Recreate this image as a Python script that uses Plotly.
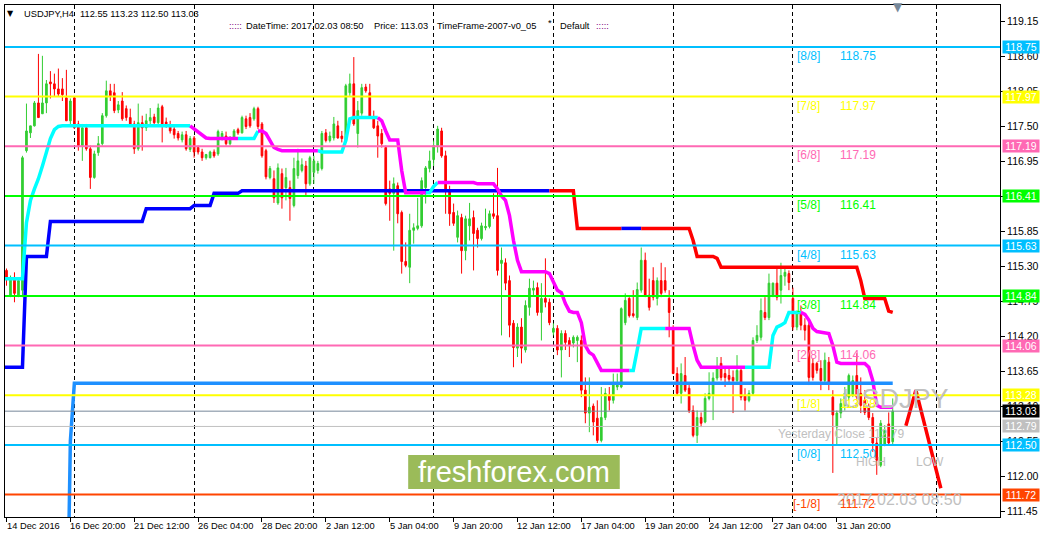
import plotly.graph_objects as go

# ---------------- data : USDJPY H4 bars, index 0 = 14 Dec 2016 00:00 ----------------
bars = list(range(224))

opens = [
    115.27, 115.24, 114.85, 115.13, 114.85, 114.93, 117.12, 117.40, 117.51, 117.87,
    117.70, 117.87, 118.20, 118.17, 118.09, 118.09, 117.95, 117.59, 117.95, 117.54,
    117.20, 117.48, 117.15, 116.70, 117.09, 117.23, 117.67, 118.06, 118.03, 117.76,
    117.90, 117.78, 117.64, 117.54, 117.15, 117.56, 117.48, 117.59, 117.65, 117.56,
    117.81, 117.57, 117.51, 117.46, 117.39, 117.29, 117.37, 117.14, 117.32, 117.17,
    117.10, 117.01, 117.01, 117.10, 117.07, 117.32, 117.35, 117.23, 117.32, 117.45,
    117.40, 117.62, 117.64, 117.62, 117.78, 117.54, 117.12, 116.70, 116.68, 116.30,
    116.76, 116.54, 116.54, 116.26, 116.73, 116.81, 116.88, 116.60, 116.78, 116.81,
    116.84, 117.40, 117.28, 117.32, 117.51, 117.35, 117.28, 118.03, 118.17, 117.39,
    117.71, 118.12, 118.03, 117.64, 117.51, 117.39, 117.17, 116.52, 116.45, 116.57,
    116.15, 115.38, 115.29, 115.87, 115.90, 115.94, 116.54, 116.84, 116.98, 117.20,
    117.43, 117.04, 116.49, 116.15, 115.76, 116.07, 115.55, 115.94, 116.07, 115.87,
    115.74, 115.91, 115.93, 116.13, 116.10, 115.35, 115.36, 115.08, 114.41, 114.02,
    114.35, 113.99, 114.66, 114.93, 114.97, 114.58, 114.80, 114.74, 114.27, 114.33,
    113.99, 114.25, 114.14, 114.10, 114.14, 114.14, 113.36, 113.00, 113.11, 112.92,
    112.57, 112.93, 113.28, 113.20, 113.41, 113.41, 114.42, 114.80, 114.56, 114.50,
    114.93, 115.40, 114.85, 115.08, 114.80, 115.08, 115.08, 114.80, 114.33, 113.62,
    113.31, 113.59, 113.39, 113.04, 112.65, 112.93, 112.86, 113.23, 113.28, 113.55,
    113.78, 113.62, 113.59, 113.56, 113.51, 113.67, 113.28, 113.20, 113.31, 114.14,
    114.19, 114.58, 114.50, 114.85, 115.04, 114.93, 115.15, 115.19, 114.80, 114.35,
    114.57, 114.38, 114.38, 113.78, 113.78, 113.70, 113.51, 113.80, 113.25, 112.78,
    113.00, 113.12, 113.25, 113.28, 113.59, 113.31, 113.20, 113.09, 112.93, 112.53,
    112.18, 112.51, 112.83, 112.55]

highs = [
    115.30, 115.27, 115.16, 115.21, 115.13, 117.04, 117.86, 117.51, 117.90, 118.64,
    118.61, 118.23, 118.37, 118.33, 118.41, 118.26, 118.39, 117.94, 117.97, 117.59,
    117.54, 117.54, 117.20, 117.12, 117.35, 117.71, 118.22, 118.17, 118.17, 117.90,
    118.04, 117.83, 117.78, 117.59, 117.86, 117.67, 117.70, 117.79, 117.70, 117.86,
    117.84, 117.64, 117.59, 117.50, 117.43, 117.42, 117.43, 117.35, 117.35, 117.20,
    117.15, 117.07, 117.12, 117.14, 117.45, 117.43, 117.42, 117.35, 117.46, 117.48,
    117.67, 117.67, 117.71, 117.81, 117.81, 117.57, 117.15, 116.88, 116.81, 116.92,
    116.84, 116.85, 116.65, 117.01, 117.15, 117.00, 116.96, 117.04, 117.04, 116.96,
    117.43, 117.46, 117.42, 117.65, 117.59, 117.43, 118.17, 118.33, 118.59, 117.90,
    118.17, 118.17, 118.17, 117.75, 117.59, 117.46, 117.20, 116.65, 116.70, 116.62,
    116.18, 115.68, 116.13, 115.98, 116.38, 116.70, 116.88, 117.12, 117.28, 117.51,
    117.48, 117.12, 116.57, 116.29, 116.18, 116.13, 116.10, 116.30, 116.18, 115.91,
    115.99, 116.21, 116.18, 116.45, 116.85, 115.60, 115.43, 115.16, 114.46, 114.41,
    114.49, 114.77, 115.11, 115.08, 115.05, 115.04, 115.43, 114.80, 114.41, 114.38,
    114.30, 114.30, 114.19, 114.22, 114.22, 114.22, 113.56, 113.56, 113.15, 113.20,
    113.41, 113.39, 113.41, 113.62, 113.62, 114.66, 114.88, 114.82, 114.93, 115.05,
    115.60, 115.52, 115.11, 115.29, 115.13, 115.36, 115.29, 114.93, 114.38, 113.72,
    113.78, 113.88, 113.44, 113.12, 113.04, 113.01, 113.31, 113.64, 113.64, 113.88,
    113.88, 113.72, 113.72, 113.67, 113.91, 113.72, 113.39, 113.36, 114.19, 114.38,
    114.80, 114.82, 115.19, 115.05, 115.27, 115.36, 115.27, 115.24, 114.97, 114.61,
    114.69, 114.49, 114.46, 113.86, 113.80, 113.83, 113.95, 113.88, 113.36, 113.04,
    113.23, 113.41, 113.62, 113.59, 113.94, 113.56, 113.36, 113.15, 113.00, 112.62,
    112.89, 112.81, 113.01, 113.23]

lows = [
    115.15, 115.00, 114.82, 114.74, 114.82, 114.82, 117.09, 117.32, 117.50, 117.64,
    117.70, 117.71, 117.94, 117.98, 117.97, 117.90, 117.59, 117.54, 117.46, 117.12,
    116.96, 117.12, 116.52, 116.68, 117.04, 117.20, 117.64, 117.90, 117.71, 117.71,
    117.59, 117.59, 117.51, 117.07, 117.12, 117.12, 117.43, 117.51, 117.51, 117.53,
    117.25, 117.48, 117.39, 117.31, 117.28, 117.25, 117.12, 117.10, 117.01, 117.06,
    116.96, 116.98, 117.00, 117.01, 117.04, 117.28, 117.20, 117.20, 117.31, 117.37,
    117.39, 117.46, 117.48, 117.59, 117.46, 117.01, 116.67, 116.67, 116.30, 116.27,
    116.21, 116.34, 116.02, 116.23, 116.68, 116.78, 116.41, 116.57, 116.60, 116.76,
    116.81, 117.25, 117.25, 117.28, 117.31, 117.25, 117.26, 117.98, 117.51, 117.17,
    117.67, 118.03, 117.62, 117.46, 117.01, 117.17, 116.26, 116.02, 115.55, 115.98,
    115.19, 115.29, 115.04, 115.66, 115.87, 115.91, 116.29, 116.78, 116.88, 117.09,
    117.01, 116.13, 115.94, 115.94, 115.68, 115.19, 115.40, 115.71, 115.24, 115.60,
    115.71, 115.87, 115.90, 116.05, 115.16, 114.22, 114.93, 114.19, 113.72, 113.88,
    113.78, 113.95, 114.53, 114.85, 114.53, 114.14, 114.66, 114.38, 114.22, 113.91,
    113.56, 113.99, 113.88, 114.03, 113.80, 113.25, 112.84, 112.70, 112.65, 112.53,
    112.54, 112.89, 113.04, 113.15, 113.36, 113.39, 114.38, 114.50, 114.50, 114.46,
    114.89, 114.82, 114.61, 114.77, 114.69, 114.82, 114.89, 114.19, 113.62, 113.28,
    113.15, 113.33, 113.00, 112.62, 112.53, 112.78, 112.84, 113.20, 112.89, 113.51,
    113.51, 113.41, 113.48, 113.00, 113.48, 113.20, 113.04, 113.17, 113.28, 114.10,
    114.14, 114.46, 114.46, 114.82, 114.77, 114.72, 115.00, 114.93, 114.30, 114.30,
    114.30, 114.14, 113.44, 113.51, 113.62, 113.36, 113.47, 113.36, 112.06, 112.50,
    112.92, 113.04, 113.20, 113.25, 113.20, 113.00, 112.97, 112.89, 112.39, 112.03,
    112.15, 112.48, 112.50, 112.50]

closes = [
    115.20, 115.13, 115.13, 114.88, 115.08, 117.01, 117.43, 117.51, 117.87, 117.64,
    117.87, 118.17, 118.17, 118.09, 118.01, 118.00, 117.59, 117.90, 117.48, 117.20,
    117.48, 117.15, 116.70, 117.07, 117.23, 117.67, 118.06, 117.98, 117.75, 117.84,
    117.62, 117.64, 117.54, 117.15, 117.56, 117.48, 117.59, 117.64, 117.56, 117.79,
    117.54, 117.53, 117.43, 117.37, 117.32, 117.37, 117.15, 117.31, 117.10, 117.10,
    117.01, 117.06, 117.10, 117.04, 117.42, 117.39, 117.23, 117.31, 117.43, 117.40,
    117.64, 117.50, 117.51, 117.78, 117.50, 117.04, 116.71, 116.84, 116.38, 116.85,
    116.38, 116.70, 116.37, 116.84, 116.96, 116.90, 116.60, 117.01, 116.96, 116.92,
    117.39, 117.28, 117.35, 117.54, 117.32, 117.31, 118.14, 118.17, 117.54, 117.75,
    118.11, 118.06, 117.64, 117.48, 117.35, 117.23, 116.29, 116.45, 116.60, 116.13,
    115.38, 115.32, 115.87, 115.91, 115.94, 116.65, 116.85, 116.96, 117.20, 117.46,
    117.04, 116.49, 116.13, 115.98, 116.10, 115.55, 116.05, 116.05, 115.82, 115.74,
    115.94, 115.93, 116.13, 116.09, 115.24, 115.40, 115.04, 114.38, 114.03, 114.35,
    114.02, 114.69, 114.96, 114.96, 114.58, 114.80, 114.74, 114.42, 114.33, 113.99,
    114.25, 114.11, 114.06, 114.19, 114.19, 113.36, 113.00, 113.09, 112.86, 112.57,
    112.93, 113.31, 113.20, 113.47, 113.47, 114.64, 114.77, 114.53, 114.53, 114.94,
    115.40, 114.85, 114.66, 114.82, 115.08, 114.88, 114.93, 114.58, 113.62, 113.31,
    113.62, 113.36, 113.04, 112.65, 112.93, 112.84, 113.23, 113.31, 113.55, 113.72,
    113.56, 113.56, 113.53, 113.51, 113.67, 113.25, 113.20, 113.31, 114.14, 114.22,
    114.61, 114.50, 115.04, 115.04, 114.82, 115.16, 115.21, 115.05, 114.35, 114.57,
    114.38, 114.30, 113.56, 113.56, 113.67, 113.51, 113.83, 113.47, 112.97, 113.00,
    113.15, 113.31, 113.59, 113.51, 113.25, 113.12, 113.01, 112.93, 112.53, 112.26,
    112.84, 112.73, 112.53, 113.03]

# trailing line (cyan when up, magenta when down), one value per bar
trail = [
    115.11, 115.11, 115.11, 115.11, 115.11, 115.11, 115.99, 116.34, 116.52, 116.68,
    116.88, 117.12, 117.31, 117.45, 117.50, 117.51, 117.51, 117.51, 117.51, 117.51,
    117.51, 117.51, 117.51, 117.51, 117.51, 117.51, 117.51, 117.51, 117.51, 117.51,
    117.51, 117.51, 117.51, 117.51, 117.51, 117.51, 117.51, 117.51, 117.51, 117.51,
    117.51, 117.51, 117.51, 117.51, 117.51, 117.51, 117.51, 117.51, 117.46, 117.42,
    117.37, 117.32, 117.31, 117.31, 117.31, 117.31, 117.31, 117.31, 117.31, 117.31,
    117.31, 117.31, 117.31, 117.31, 117.43, 117.43, 117.39, 117.28, 117.17, 117.14,
    117.12, 117.12, 117.12, 117.12, 117.12, 117.12, 117.12, 117.12, 117.12, 117.12,
    117.10, 117.10, 117.10, 117.10, 117.10, 117.10, 117.28, 117.62, 117.64, 117.64,
    117.64, 117.64, 117.64, 117.64, 117.64, 117.59, 117.43, 117.29, 117.29, 117.29,
    116.81, 116.46, 116.46, 116.46, 116.46, 116.46, 116.46, 116.46, 116.56, 116.62,
    116.62, 116.62, 116.62, 116.62, 116.62, 116.62, 116.62, 116.62, 116.62, 116.60,
    116.60, 116.60, 116.60, 116.60, 116.52, 116.41, 116.34, 116.10, 115.71, 115.40,
    115.22, 115.22, 115.22, 115.22, 115.22, 115.22, 115.22, 115.19, 115.05, 114.93,
    114.89, 114.72, 114.60, 114.58, 114.58, 114.42, 114.06, 113.95, 113.91, 113.78,
    113.67, 113.67, 113.67, 113.67, 113.67, 113.67, 113.67, 113.67, 113.67, 113.99,
    114.33, 114.33, 114.33, 114.33, 114.33, 114.33, 114.33, 114.33, 114.33, 114.33,
    114.33, 114.33, 114.33, 114.06, 113.83, 113.72, 113.72, 113.72, 113.72, 113.72,
    113.72, 113.72, 113.72, 113.72, 113.72, 113.72, 113.72, 113.72, 113.72, 113.72,
    113.72, 113.72, 113.72, 114.22, 114.35, 114.38, 114.42, 114.58, 114.58, 114.58,
    114.58, 114.55, 114.46, 114.33, 114.28, 114.27, 114.25, 114.25, 114.06, 113.80,
    113.78, 113.78, 113.78, 113.78, 113.78, 113.78, 113.78, 113.72, 113.51, 113.12,
    113.09, 113.09, 113.09, 113.09]
trail_switch_bars = [0, 48, 60, 65, 80, 95, 107, 110, 158, 167, 187, 201]
trail_switch_up = [True, False, True, False, True, False, True, False, True, False, True, False]

# stepped trend line (blue when up, red when down), one value per bar
step = [
    113.72, 113.72, 113.72, 113.72, 113.72, 113.72, 115.46, 115.46, 115.46, 115.46,
    115.46, 115.46, 116.01, 116.01, 116.01, 116.01, 116.01, 116.01, 116.01, 116.01,
    116.01, 116.01, 116.01, 116.01, 116.01, 116.01, 116.01, 116.01, 116.01, 116.01,
    116.01, 116.01, 116.01, 116.01, 116.01, 116.01, 116.21, 116.21, 116.21, 116.21,
    116.21, 116.21, 116.21, 116.21, 116.21, 116.21, 116.21, 116.21, 116.26, 116.26,
    116.26, 116.26, 116.26, 116.45, 116.45, 116.45, 116.45, 116.45, 116.45, 116.45,
    116.49, 116.49, 116.49, 116.49, 116.49, 116.49, 116.49, 116.49, 116.49, 116.49,
    116.49, 116.49, 116.49, 116.49, 116.49, 116.49, 116.49, 116.49, 116.49, 116.49,
    116.49, 116.49, 116.49, 116.49, 116.49, 116.49, 116.49, 116.49, 116.49, 116.49,
    116.49, 116.49, 116.49, 116.49, 116.49, 116.49, 116.49, 116.49, 116.49, 116.49,
    116.49, 116.49, 116.49, 116.49, 116.49, 116.49, 116.49, 116.49, 116.49, 116.49,
    116.49, 116.49, 116.49, 116.49, 116.49, 116.49, 116.49, 116.49, 116.49, 116.49,
    116.49, 116.49, 116.49, 116.49, 116.49, 116.49, 116.49, 116.49, 116.49, 116.49,
    116.49, 116.49, 116.49, 116.49, 116.49, 116.49, 116.49, 116.49, 116.49, 116.49,
    116.49, 116.49, 116.49, 116.49, 115.90, 115.90, 115.90, 115.90, 115.90, 115.90,
    115.90, 115.90, 115.90, 115.90, 115.90, 115.90, 115.90, 115.90, 115.90, 115.90,
    115.90, 115.90, 115.90, 115.90, 115.90, 115.90, 115.90, 115.90, 115.90, 115.90,
    115.90, 115.90, 115.90, 115.71, 115.46, 115.46, 115.46, 115.46, 115.46, 115.43,
    115.29, 115.29, 115.29, 115.29, 115.29, 115.29, 115.29, 115.29, 115.29, 115.29,
    115.29, 115.29, 115.29, 115.29, 115.29, 115.29, 115.29, 115.29, 115.29, 115.29,
    115.29, 115.29, 115.29, 115.29, 115.29, 115.29, 115.29, 115.29, 115.29, 115.29,
    115.29, 115.29, 115.29, 115.29, 115.29, 115.08, 114.80, 114.80, 114.80, 114.80,
    114.80, 114.80, 114.60, 114.58]
step_switch_bars = [0, 138, 156, 161]
step_switch_up = [True, False, True, False]

# dodger-blue line (rises from below the chart, then flat)
dodger_bars = [16, 17, 18, 223]
dodger_vals = [108.75, 112.56, 113.47, 113.47]

# axis ticks
x_tick_bars = [1, 17, 33, 49, 65, 81, 97, 113, 129, 145, 161, 177, 193, 209]
x_tick_labels = ["14 Dec 2016", "16 Dec 20:00", "21 Dec 12:00", "26 Dec 04:00",
                 "28 Dec 20:00", "2 Jan 12:00", "5 Jan 04:00", "9 Jan 20:00",
                 "12 Jan 12:00", "17 Jan 04:00", "19 Jan 20:00", "24 Jan 12:00",
                 "27 Jan 04:00", "31 Jan 20:00"]
grid_bars = [18, 48, 78, 108, 138, 168, 198, 234]
y_ticks = [111.45, 112.00, 112.55, 113.10, 113.65, 114.20, 114.75, 115.30,
           115.85, 116.40, 116.95, 117.50, 118.05, 118.60, 119.15]

# Murrey math levels
level_names = ["[+1/8]", "[8/8]", "[7/8]", "[6/8]", "[5/8]", "[4/8]",
               "[3/8]", "[2/8]", "[1/8]", "[0/8]", "[-1/8]"]
level_values = [119.53, 118.75, 117.97, 117.19, 116.41, 115.63,
                114.84, 114.06, 113.28, 112.50, 111.72]
level_colors = ["#FF4500", "#00BFFF", "#FFFF00", "#FF69B4", "#00FF00", "#00BFFF",
                "#00FF00", "#FF69B4", "#FFFF00", "#00BFFF", "#FF4500"]

bid_price = 113.03
yesterday_close = 112.79
header_ohlc = "112.55 113.23 112.50 113.03"

# hand-drawn red arrow (bar position, price)
arrow_bars = [226.3, 228.8, 235.05]
arrow_vals = [112.80, 113.36, 111.82]

# ---------------- layout constants ----------------
W, H = 1043, 539
ML, MR, MT, MB = 4, 42, 4, 22
PW, PH = W - ML - MR, H - MT - MB
X_RANGE = [0.625, 249.875]
Y_RANGE = [111.368, 119.408]
FONT = "Liberation Sans, Arial, sans-serif"
SMALL = 9.3


def px(xp):
    return (xp - ML) / PW


def py(yp):
    return (H - MB - yp) / PH


fig = go.Figure()

fig.add_trace(go.Candlestick(
    x=bars, open=opens, high=highs, low=lows, close=closes,
    increasing=dict(line=dict(color="#32CD32", width=1), fillcolor="#32CD32"),
    decreasing=dict(line=dict(color="#FF0000", width=1), fillcolor="#FF0000"),
    whiskerwidth=0, hoverinfo="skip", showlegend=False))


def coloured_runs(values, switches, ups, up_color, down_color, width):
    n = len(values)
    series = {True: ([], []), False: ([], [])}
    for k, s in enumerate(switches):
        e = switches[k + 1] if k + 1 < len(switches) else n
        s0 = s - 1 if s > 0 else 0
        xs, ys = series[ups[k]]
        if xs:
            xs.append(None)
            ys.append(None)
        xs.extend(bars[s0:e])
        ys.extend(values[s0:e])
    for up, col in ((True, up_color), (False, down_color)):
        xs, ys = series[up]
        fig.add_trace(go.Scatter(x=xs, y=ys, mode="lines",
                                 line=dict(color=col, width=width),
                                 hoverinfo="skip", showlegend=False,
                                 connectgaps=False))


coloured_runs(step, step_switch_bars, step_switch_up, "#0000FF", "#FF0000", 3.5)
coloured_runs(trail, trail_switch_bars, trail_switch_up, "#00FFFF", "#FF00FF", 3.5)

fig.add_trace(go.Scatter(x=dodger_bars, y=dodger_vals, mode="lines",
                         line=dict(color="#1E90FF", width=3.5),
                         hoverinfo="skip", showlegend=False))

fig.add_trace(go.Scatter(x=arrow_bars, y=arrow_vals, mode="lines",
                         line=dict(color="#FF0000", width=3.5),
                         hoverinfo="skip", showlegend=False, cliponaxis=False))

shapes = []
annotations = []

# level lines
for name, val, col in zip(level_names, level_values, level_colors):
    if Y_RANGE[0] < val < Y_RANGE[1]:
        shapes.append(dict(type="line", xref="paper", x0=0, x1=1, yref="y",
                           y0=val, y1=val, line=dict(color=col, width=2),
                           layer="above"))
shapes.append(dict(type="line", xref="paper", x0=0, x1=1, yref="y",
                   y0=bid_price, y1=bid_price,
                   line=dict(color="#778899", width=1), layer="above"))
shapes.append(dict(type="line", xref="paper", x0=0, x1=1, yref="y",
                   y0=yesterday_close, y1=yesterday_close,
                   line=dict(color="#C0C0C0", width=1), layer="above"))

# freshforex badge
shapes.append(dict(type="rect", xref="paper", yref="paper",
                   x0=px(408), x1=px(620), y0=py(489), y1=py(455),
                   fillcolor="#9BBB59", line=dict(width=0), layer="above"))

# big gray overlay texts
annotations.append(dict(text="2017.02.03 08:50", xref="paper", yref="paper",
                        x=px(836), y=py(499), xanchor="left", yanchor="middle",
                        showarrow=False, font=dict(family=FONT, size=16, color="#C0C0C0")))
annotations.append(dict(text="USDJPY", xref="paper", yref="paper",
                        x=px(841), y=py(399), xanchor="left", yanchor="middle",
                        showarrow=False, font=dict(family=FONT, size=27, color="#C0C0C0")))

# level texts in the chart
for name, val, col in zip(level_names, level_values, level_colors):
    annotations.append(dict(text=name, xref="paper", yref="y", x=px(823), y=val,
                            yshift=-9, xanchor="right", yanchor="middle",
                            showarrow=False, font=dict(family=FONT, size=12, color=col)))
    annotations.append(dict(text=f"{val:.2f}", xref="paper", yref="y", x=px(839), y=val,
                            yshift=-9, xanchor="left", yanchor="middle",
                            showarrow=False, font=dict(family=FONT, size=12, color=col)))

annotations.append(dict(text=f"Yesterday Close {yesterday_close:.2f}", xref="paper", yref="y",
                        x=px(777), y=yesterday_close, yshift=-8, xanchor="left",
                        yanchor="middle", showarrow=False,
                        font=dict(family=FONT, size=12, color="#C0C0C0")))
annotations.append(dict(text="HIGH", xref="paper", yref="paper", x=px(855), y=py(462),
                        xanchor="left", yanchor="middle", showarrow=False,
                        font=dict(family=FONT, size=12, color="#C0C0C0")))
annotations.append(dict(text="LOW", xref="paper", yref="paper", x=px(915), y=py(462),
                        xanchor="left", yanchor="middle", showarrow=False,
                        font=dict(family=FONT, size=12, color="#C0C0C0")))
annotations.append(dict(text="freshforex.com", xref="paper", yref="paper",
                        x=px(514), y=py(472), xanchor="center", yanchor="middle",
                        showarrow=False, font=dict(family=FONT, size=29, color="#FFFFFF")))

# right-axis price boxes
box_vals = level_values[1:] + [bid_price, yesterday_close]
box_cols = level_colors[1:] + ["#000000", "#C0C0C0"]
for val, col in zip(box_vals, box_cols):
    annotations.append(dict(text=f"{val:.2f}", xref="paper", yref="y", x=1, y=val,
                            xanchor="left", yanchor="middle", xshift=2,
                            showarrow=False, bgcolor=col, width=35, height=11,
                            borderpad=0.5,
                            font=dict(family=FONT, size=10.5, color="#FFFFFF")))

# x-axis labels (left aligned at tick, MT4 style)
for b, lab in zip(x_tick_bars, x_tick_labels):
    annotations.append(dict(text=lab, xref="x", yref="paper", x=b, y=py(526),
                            xanchor="left", yanchor="middle", xshift=-2,
                            showarrow=False, font=dict(family=FONT, size=SMALL, color="#000000")))

# header texts
annotations.append(dict(text="\u25BC", xref="paper", yref="paper", x=px(10), y=py(13),
                        xanchor="center", yanchor="middle", showarrow=False,
                        font=dict(family="DejaVu Sans", size=8, color="#000000")))
annotations.append(dict(text="USDJPY,H4", xref="paper", yref="paper", x=px(21), y=py(13),
                        xanchor="left", yanchor="middle", showarrow=False,
                        font=dict(family=FONT, size=SMALL, color="#000000")))
annotations.append(dict(text=header_ohlc, xref="paper", yref="paper", x=px(77), y=py(13),
                        xanchor="left", yanchor="middle", showarrow=False,
                        font=dict(family=FONT, size=SMALL, color="#000000")))
header2 = [(":::::", 226, "#800080"), ("DateTime: 2017.02.03 08:50", 243, "#000000"),
           ("Price: 113.03", 372, "#000000"), ("TimeFrame-2007-v0_05", 435, "#000000"),
           ("Default", 558, "#000000"), (":::::", 594, "#800080")]
for t, xp, col in header2:
    annotations.append(dict(text=t, xref="paper", yref="paper", x=px(xp), y=py(25),
                            xanchor="left", yanchor="middle", showarrow=False,
                            font=dict(family=FONT, size=SMALL, color=col)))
annotations.append(dict(text="*", xref="paper", yref="paper", x=px(546), y=py(22),
                        xanchor="left", yanchor="middle", showarrow=False,
                        font=dict(family=FONT, size=SMALL, color="#000000")))
annotations.append(dict(text="\u25BC", xref="paper", yref="paper", x=px(899), y=py(6),
                        xanchor="center", yanchor="middle", showarrow=False,
                        font=dict(family="DejaVu Sans", size=12, color="#778899")))

fig.update_layout(
    width=W, height=H,
    margin=dict(l=ML, r=MR, t=MT, b=MB, pad=0),
    paper_bgcolor="#FFFFFF", plot_bgcolor="#FFFFFF",
    showlegend=False,
    boxgap=0.4,
    font=dict(family=FONT, size=10.5, color="#000000"),
    shapes=shapes, annotations=annotations,
    xaxis=dict(range=X_RANGE, rangeslider=dict(visible=False),
               tickmode="array", tickvals=x_tick_bars, showticklabels=False,
               ticks="outside", ticklen=4, tickcolor="#000000", tickwidth=1,
               showgrid=False, zeroline=False, showline=True, linecolor="#000000",
               linewidth=1, mirror=True, fixedrange=True,
               minor=dict(tickmode="array", tickvals=grid_bars, showgrid=True,
                          gridcolor="#000000", gridwidth=1, griddash="4px,3px",
                          ticks="")),
    yaxis=dict(range=Y_RANGE, side="right", tickmode="array", tickvals=y_ticks,
               ticktext=[f"{v:.2f}" for v in y_ticks],
               ticks="outside", ticklen=4, tickcolor="#000000", tickwidth=1,
               showgrid=False, zeroline=False, showline=True, linecolor="#000000",
               linewidth=1, mirror=True, fixedrange=True,
               tickfont=dict(family=FONT, size=10.5, color="#000000")),
)

fig.write_html("out.html",
               config={"displayModeBar": False, "staticPlot": True},
               post_script="document.body.style.margin='0';document.body.style.padding='0';"
                           "document.documentElement.style.overflow='hidden';")
